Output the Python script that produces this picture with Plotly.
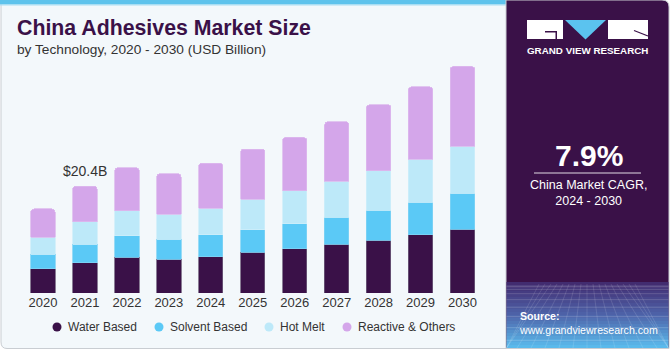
import plotly.graph_objects as go

years = ["2020", "2021", "2022", "2023", "2024", "2025", "2026", "2027", "2028", "2029", "2030"]
water_based = [4.58, 5.78, 6.80, 6.48, 6.93, 7.74, 8.45, 9.27, 10.10, 11.06, 12.20]
solvent_based = [2.80, 3.56, 4.07, 3.81, 4.19, 4.33, 4.77, 5.22, 5.72, 6.22, 6.79]
hot_melt = [3.24, 4.25, 4.83, 4.70, 5.08, 5.78, 6.23, 6.86, 7.50, 8.20, 8.96]
reactive_others = [5.40, 6.81, 8.20, 7.75, 8.52, 9.60, 10.20, 11.30, 12.58, 13.80, 15.25]

series_names = ["Water Based", "Solvent Based", "Hot Melt", "Reactive & Others"]
series_values = [water_based, solvent_based, hot_melt, reactive_others]
colors = ["#3a1148", "#5bc9f6", "#bde9f9", "#d4a6ea"]
edge_colors = ["#6e5c7c", "#7fd3f5", "#cdeefa", "#dcb9ee"]

highlight_year = "2021"
highlight_label = "$20.4B"

W, H = 671, 350
def px(x):
    return x / W
def py(y):
    return 1 - y / H

FONT = "Liberation Sans, Arial, sans-serif"
PURPLE = "#3a1148"

fig = go.Figure()
for name, vals, c, ec in zip(series_names, series_values, colors, edge_colors):
    fig.add_trace(go.Bar(
        x=years, y=vals, name=name,
        marker=dict(color=c, line=dict(color=ec, width=0.8)),
        showlegend=False,
        hovertemplate="%{x}: %{y}<extra>" + name + "</extra>",
    ))

totals = [sum(v) for v in zip(*series_values)]
hi = years.index(highlight_year)

shapes = []
annotations = []

# left panel background + border
shapes.append(dict(type="path", xref="paper", yref="paper",
                   path=f"M {px(1)} {py(0)} L {px(507)} {py(0)} L {px(507)} {py(348.5)} L {px(7)} {py(348.5)} "
                        f"Q {px(1)} {py(348.5)} {px(1)} {py(342)} Z",
                   fillcolor="#f3f8fb", line=dict(color="#c9cdd2", width=1), layer="below"))
# top blue bar
shapes.append(dict(type="rect", xref="paper", yref="paper",
                   x0=px(0), x1=px(507), y0=py(4.5), y1=py(0),
                   fillcolor="#5ec3ec", line=dict(width=0), layer="below"))
shapes.append(dict(type="rect", xref="paper", yref="paper",
                   x0=px(0), x1=px(507), y0=py(5.5), y1=py(4.5),
                   fillcolor="#a9def3", line=dict(width=0), layer="below"))

# right panel
shapes.append(dict(type="path", xref="paper", yref="paper",
                   path=f"M {px(506)} {py(0)} L {px(662)} {py(0)} Q {px(669)} {py(0)} {px(669)} {py(7)} "
                        f"L {px(669)} {py(348.5)} L {px(506)} {py(348.5)} Z",
                   fillcolor=PURPLE, line=dict(color="#c9cdd2", width=1), layer="below"))
# gradient bottom of right panel
def lerp(a, b, t):
    return tuple(int(round(a[i] + (b[i] - a[i]) * t)) for i in range(3))
top_c = (66, 44, 112)
mid_c = (78, 100, 170)
bot_c = (90, 185, 235)
n = 22
y_start, y_end = 282, 348
for i in range(n):
    t = i / (n - 1)
    c = lerp(top_c, mid_c, t / 0.5) if t < 0.5 else lerp(mid_c, bot_c, (t - 0.5) / 0.5)
    y0 = y_start + (y_end - y_start) * i / n
    y1 = y_start + (y_end - y_start) * (i + 1) / n
    shapes.append(dict(type="rect", xref="paper", yref="paper",
                       x0=px(506.5), x1=px(668.5), y0=py(y1), y1=py(y0),
                       fillcolor=f"rgb{c}", line=dict(width=0), layer="below"))
# faint grid texture
for k in range(9):
    yy = 286 + k * k * 0.85
    shapes.append(dict(type="line", xref="paper", yref="paper",
                       x0=px(506.5), x1=px(668.5), y0=py(yy), y1=py(yy),
                       line=dict(color="rgba(255,255,255,0.16)", width=1), layer="below"))
for k in range(-8, 9):
    xb = 587 + k * 14
    xt = 587 + k * 6
    shapes.append(dict(type="line", xref="paper", yref="paper",
                       x0=px(max(506.5, min(668.5, xt))), x1=px(max(506.5, min(668.5, xb))),
                       y0=py(284), y1=py(348),
                       line=dict(color="rgba(255,255,255,0.12)", width=1), layer="below"))

# logo
shapes.append(dict(type="rect", xref="paper", yref="paper",
                   x0=px(527), x1=px(563), y0=py(39), y1=py(20),
                   fillcolor="white", line=dict(width=0)))
shapes.append(dict(type="path", xref="paper", yref="paper",
                   path=f"M {px(545)} {py(31)} L {px(557)} {py(31)} L {px(557)} {py(39)} L {px(555.5)} {py(39)} "
                        f"L {px(555.5)} {py(32.5)} L {px(545)} {py(32.5)} Z",
                   fillcolor=PURPLE, line=dict(width=0)))
shapes.append(dict(type="path", xref="paper", yref="paper",
                   path=f"M {px(565)} {py(20)} L {px(606)} {py(20)} L {px(585.5)} {py(39.5)} Z",
                   fillcolor="#5bc3ef", line=dict(width=0)))
shapes.append(dict(type="rect", xref="paper", yref="paper",
                   x0=px(608), x1=px(648), y0=py(39), y1=py(20),
                   fillcolor="white", line=dict(width=0)))
shapes.append(dict(type="line", xref="paper", yref="paper",
                   x0=px(634), x1=px(648), y0=py(30.5), y1=py(36),
                   line=dict(color=PURPLE, width=1.3)))
# divider line under CAGR value
shapes.append(dict(type="line", xref="paper", yref="paper",
                   x0=px(534), x1=px(641), y0=py(173), y1=py(173),
                   line=dict(color="rgba(255,255,255,0.85)", width=1)))

# legend (circles + labels)
legend_x = [57, 159, 269, 347]
for xc, name, c in zip(legend_x, series_names, colors):
    shapes.append(dict(type="circle", xref="paper", yref="paper",
                       x0=px(xc - 4.5), x1=px(xc + 4.5), y0=py(331.5), y1=py(322.5),
                       fillcolor=c, line=dict(width=0)))
    annotations.append(dict(text=name, xref="paper", yref="paper", x=px(xc + 8.5), y=py(327),
                            xanchor="left", yanchor="middle", showarrow=False,
                            font=dict(family=FONT, size=12, color="#333333")))

# titles
annotations.append(dict(text="<b>China Adhesives Market Size</b>", xref="paper", yref="paper",
                        x=px(15), y=py(28), xanchor="left", yanchor="middle", showarrow=False,
                        font=dict(family=FONT, size=21.3, color=PURPLE)))
annotations.append(dict(text="by Technology, 2020 - 2030 (USD Billion)", xref="paper", yref="paper",
                        x=px(15), y=py(49), xanchor="left", yanchor="middle", showarrow=False,
                        font=dict(family=FONT, size=13.7, color="#333333")))

# bar label (category index position)
annotations.append(dict(text=highlight_label, x=hi, y=totals[hi], xref="x", yref="y",
                        xanchor="center", yanchor="bottom", yshift=5, showarrow=False,
                        font=dict(family=FONT, size=14, color="#333333")))

# right panel texts
annotations.append(dict(text="<b>GRAND VIEW RESEARCH</b>", xref="paper", yref="paper",
                        x=px(587.5), y=py(51), xanchor="center", yanchor="middle", showarrow=False,
                        font=dict(family=FONT, size=9.8, color="white")))
annotations.append(dict(text="<b>7.9%</b>", xref="paper", yref="paper",
                        x=px(589), y=py(155), xanchor="center", yanchor="middle", showarrow=False,
                        font=dict(family=FONT, size=30, color="white")))
annotations.append(dict(text="China Market CAGR,<br>2024 - 2030", xref="paper", yref="paper",
                        x=px(588), y=py(193), xanchor="center", yanchor="middle", showarrow=False,
                        font=dict(family=FONT, size=12.5, color="white")))
annotations.append(dict(text="<b>Source:</b><br>www.grandviewresearch.com", xref="paper", yref="paper",
                        x=px(517), y=py(322.5), xanchor="left", yanchor="middle", showarrow=False, align="left",
                        font=dict(family=FONT, size=10.6, color="white")))

fig.update_layout(
    width=W, height=H,
    margin=dict(l=0, r=0, t=0, b=0, autoexpand=False),
    paper_bgcolor="#ffffff",
    plot_bgcolor="rgba(0,0,0,0)",
    barmode="stack",
    bargap=0.42,
    barcornerradius=3,
    showlegend=False,
    shapes=shapes,
    annotations=annotations,
    font=dict(family=FONT),
    xaxis=dict(type="category", automargin=False, domain=[px(22), px(483.5)],
               range=[-0.5, len(years) - 0.5], showgrid=False,
               zeroline=False, showline=False, ticks="",
               tickfont=dict(family=FONT, size=13, color="#333333"), fixedrange=True),
    yaxis=dict(domain=[py(293), py(60)], range=[0, (293 - 60) / 5.245], visible=False,
               automargin=False, showgrid=False, zeroline=False, fixedrange=True),
)

fig.write_html("out.html")
